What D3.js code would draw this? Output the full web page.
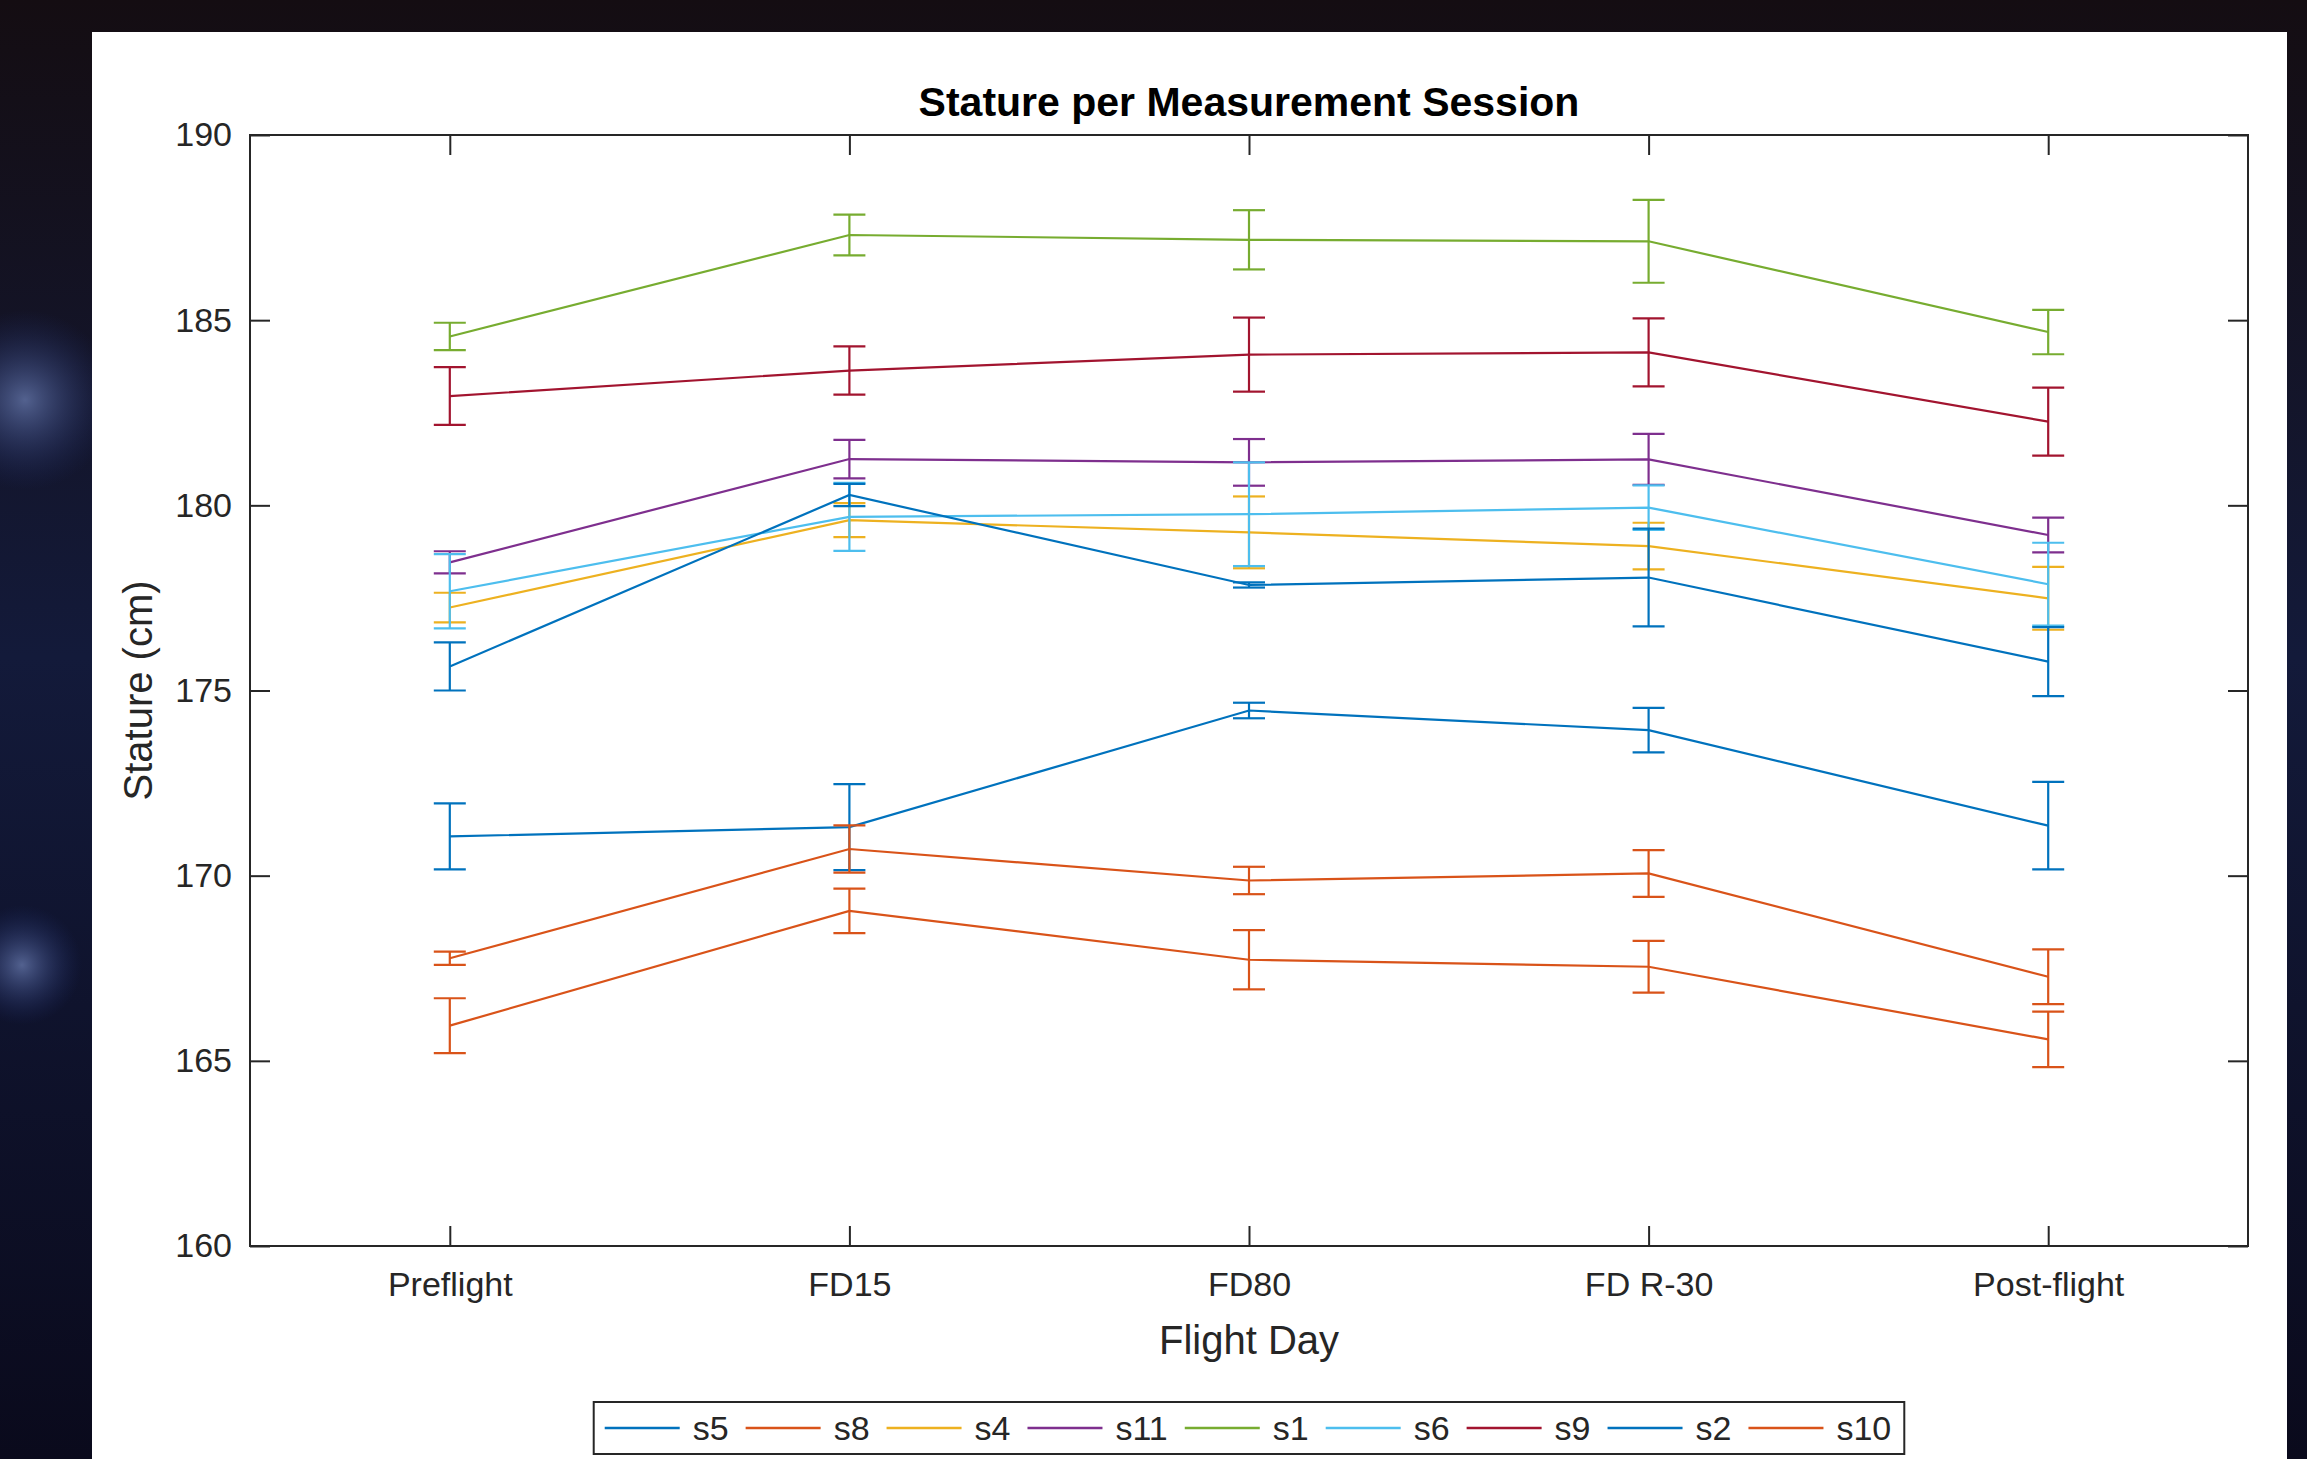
<!DOCTYPE html>
<html lang="en">
<head>
    <meta charset="UTF-8">
    <title>Stature per Measurement Session</title>
    <script src="https://cdn.jsdelivr.net/npm/d3@7"></script>
    <style>
        body { margin: 0; background: #0b0910; overflow: hidden; }
        text { font-family: "Liberation Sans", Arial, sans-serif; fill: #262626; }
        .axis path { display: none; }
        .axis line { stroke: #262626; stroke-width: 2; }
        .axis text { font-size: 34px; }
    </style>
</head>
<body>
<svg width="2307" height="1459"></svg>

<script>
    // sessions along the x axis
    const sessions = ["Preflight", "FD15", "FD80", "FD R-30", "Post-flight"];
    const yTicks = [160, 165, 170, 175, 180, 185, 190];

    // one entry per subject, in legend order
    const subjects = ["s5", "s8", "s4", "s11", "s1", "s6", "s9", "s2", "s10"];
    const colors   = ["#0072BD", "#D95319", "#EDB120", "#7E2F8E", "#77AC30",
                      "#4DBEEE", "#A2142F", "#0072BD", "#D95319"];

    // mean stature (cm) per session
    const s5  = [171.06, 171.31, 174.46, 173.93, 171.35];
    const s8  = [167.77, 170.72, 169.87, 170.06, 167.27];
    const s4  = [177.24, 179.60, 179.27, 178.90, 177.49];
    const s11 = [178.46, 181.25, 181.16, 181.24, 179.20];
    const s1  = [184.56, 187.30, 187.17, 187.13, 184.68];
    const s6  = [177.68, 179.69, 179.76, 179.94, 177.87];
    const s9  = [182.95, 183.64, 184.07, 184.13, 182.26];
    const s2  = [175.65, 180.28, 177.85, 178.05, 175.78];
    const s10 = [165.95, 169.05, 167.73, 167.54, 165.58];

    // error bar half-lengths (cm)
    const s5Err  = [0.89, 1.16, 0.21, 0.60, 1.18];
    const s8Err  = [0.18, 0.64, 0.37, 0.63, 0.74];
    const s4Err  = [0.40, 0.46, 0.97, 0.63, 0.85];
    const s11Err = [0.30, 0.52, 0.63, 0.69, 0.47];
    const s1Err  = [0.37, 0.55, 0.80, 1.12, 0.60];
    const s6Err  = [1.00, 0.92, 1.40, 0.60, 1.12];
    const s9Err  = [0.78, 0.65, 1.00, 0.92, 0.92];
    const s2Err  = [0.65, 0.30, 0.07, 1.32, 0.93];
    const s10Err = [0.74, 0.60, 0.80, 0.70, 0.75];

    const means = [s5, s8, s4, s11, s1, s6, s9, s2, s10];
    const errs  = [s5Err, s8Err, s4Err, s11Err, s1Err, s6Err, s9Err, s2Err, s10Err];

    const series = subjects.map((name, i) => ({
        name: name,
        color: colors[i],
        points: sessions.map((s, j) => ({ session: s, value: means[i][j], err: errs[i][j] }))
    }));

    const svg = d3.select("svg");

    // space backdrop behind the white figure
    const defs = svg.append("defs");
    const glow = defs.append("radialGradient").attr("id", "glow");
    glow.append("stop").attr("offset", "0%").attr("stop-color", "#5a6a9a").attr("stop-opacity", 0.9);
    glow.append("stop").attr("offset", "100%").attr("stop-color", "#1b2a66").attr("stop-opacity", 0);
    const sky = defs.append("linearGradient").attr("id", "sky")
        .attr("x1", 0).attr("y1", 0).attr("x2", 0).attr("y2", 1);
    sky.append("stop").attr("offset", "0%").attr("stop-color", "#140d12");
    sky.append("stop").attr("offset", "45%").attr("stop-color", "#131a3a");
    sky.append("stop").attr("offset", "100%").attr("stop-color", "#0a0a1c");

    svg.append("rect").attr("width", 2307).attr("height", 1459).attr("fill", "url(#sky)");
    svg.append("circle").attr("cx", 25).attr("cy", 400).attr("r", 90).attr("fill", "url(#glow)");
    svg.append("circle").attr("cx", 22).attr("cy", 965).attr("r", 60).attr("fill", "url(#glow)");

    // white figure area
    svg.append("rect")
        .attr("x", 92).attr("y", 32)
        .attr("width", 2195).attr("height", 1427)
        .attr("fill", "#ffffff");

    const plot = { left: 250, right: 2248, top: 135, bottom: 1246 };

    const x = d3.scalePoint()
        .domain(sessions)
        .range([plot.left, plot.right])
        .padding(0.5);

    const y = d3.scaleLinear()
        .domain([160, 190])
        .range([plot.bottom, plot.top]);

    // axes with inward ticks on all four sides
    svg.append("g").attr("class", "axis")
        .attr("transform", `translate(0,${plot.bottom})`)
        .call(d3.axisBottom(x).tickSizeInner(-20).tickSizeOuter(0).tickPadding(26));
    svg.append("g").attr("class", "axis")
        .attr("transform", `translate(0,${plot.top})`)
        .call(d3.axisTop(x).tickSizeInner(-20).tickSizeOuter(0).tickFormat(""));
    svg.append("g").attr("class", "axis")
        .attr("transform", `translate(${plot.left},0)`)
        .call(d3.axisLeft(y).tickValues(yTicks).tickSizeInner(-20).tickSizeOuter(0).tickPadding(18));
    svg.append("g").attr("class", "axis")
        .attr("transform", `translate(${plot.right},0)`)
        .call(d3.axisRight(y).tickValues(yTicks).tickSizeInner(-20).tickSizeOuter(0).tickFormat(""));

    svg.append("rect")
        .attr("x", plot.left).attr("y", plot.top)
        .attr("width", plot.right - plot.left).attr("height", plot.bottom - plot.top)
        .attr("fill", "none").attr("stroke", "#262626").attr("stroke-width", 2);

    // series: line plus error bars in the same colour
    const line = d3.line()
        .x(d => x(d.session))
        .y(d => y(d.value));

    const capHalf = 16;
    const groups = svg.selectAll("g.subject")
        .data(series)
        .join("g").attr("class", "subject")
        .attr("stroke", d => d.color)
        .attr("fill", "none")
        .attr("stroke-width", 2.2);

    groups.append("path").attr("d", d => line(d.points));

    const bars = groups.selectAll("g.bar")
        .data(d => d.points)
        .join("g").attr("class", "bar");
    bars.append("line")
        .attr("x1", d => x(d.session)).attr("x2", d => x(d.session))
        .attr("y1", d => y(d.value + d.err)).attr("y2", d => y(d.value - d.err));
    bars.append("line")
        .attr("x1", d => x(d.session) - capHalf).attr("x2", d => x(d.session) + capHalf)
        .attr("y1", d => y(d.value + d.err)).attr("y2", d => y(d.value + d.err));
    bars.append("line")
        .attr("x1", d => x(d.session) - capHalf).attr("x2", d => x(d.session) + capHalf)
        .attr("y1", d => y(d.value - d.err)).attr("y2", d => y(d.value - d.err));

    // title and axis labels
    svg.append("text")
        .attr("x", (plot.left + plot.right) / 2).attr("y", 116)
        .attr("text-anchor", "middle")
        .style("font-size", "41px").style("font-weight", "bold")
        .style("fill", "#000")
        .text("Stature per Measurement Session");

    svg.append("text")
        .attr("x", (plot.left + plot.right) / 2).attr("y", 1354)
        .attr("text-anchor", "middle")
        .style("font-size", "40px")
        .text("Flight Day");

    svg.append("text")
        .attr("transform", `translate(152,${(plot.top + plot.bottom) / 2}) rotate(-90)`)
        .attr("text-anchor", "middle")
        .style("font-size", "40px")
        .text("Stature (cm)");

    // legend, one row, centred under the axes
    const legend = svg.append("g");
    const legendY = 1428;
    const lineLen = 75, textGap = 13, itemGap = 17;
    let cursor = 0;
    const items = legend.selectAll("g.item")
        .data(series)
        .join("g").attr("class", "item");
    items.each(function(d) {
        const g = d3.select(this);
        g.append("line")
            .attr("x1", cursor).attr("x2", cursor + lineLen)
            .attr("y1", legendY).attr("y2", legendY)
            .attr("stroke", d.color).attr("stroke-width", 2.5);
        const t = g.append("text")
            .attr("x", cursor + lineLen + textGap).attr("y", legendY + 12)
            .style("font-size", "34px")
            .text(d.name);
        cursor += lineLen + textGap + t.node().getComputedTextLength() + itemGap;
    });
    const legendWidth = cursor - itemGap + 24;
    const legendLeft = (plot.left + plot.right) / 2 - legendWidth / 2;
    legend.insert("rect", ":first-child")
        .attr("x", -11).attr("y", 1402)
        .attr("width", legendWidth).attr("height", 52)
        .attr("fill", "#fff").attr("stroke", "#262626").attr("stroke-width", 2);
    legend.attr("transform", `translate(${legendLeft + 11},0)`);
</script>
</body>
</html>
